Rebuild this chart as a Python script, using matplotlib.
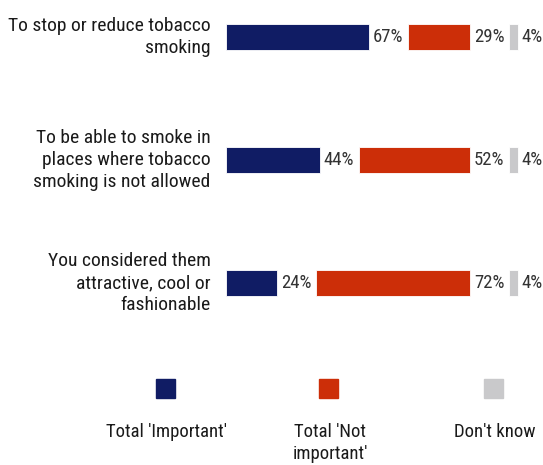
import matplotlib
matplotlib.use('Agg')
import matplotlib.pyplot as plt
from matplotlib.patches import Rectangle
import numpy as np

plt.rcParams['font.family'] = ['Roboto Condensed', 'Archivo Narrow', 'DejaVu Sans']

# data
categories = ['To stop or reduce tobacco\nsmoking',
              'To be able to smoke in\nplaces where tobacco\nsmoking is not allowed',
              'You considered them\nattractive, cool or\nfashionable']
important = [67, 44, 24]
not_important = [29, 52, 72]
dont_know = [4, 4, 4]
series_names = ["Total 'Important'", "Total 'Not\nimportant'", "Don't know"]
colors = ['#101c64', '#cc2e08', '#c9c9cb']

GAP = 18.2          # room left for the value label between segments
W, H = 543, 465
PX = 2.14           # pixels per percentage point

fig = plt.figure(figsize=(W / 100, H / 100), dpi=100)
ax = fig.add_axes([226 / W, 0, 1 - 226 / W, 1])
ax.set_xlim(0, (W - 226) / PX)
ax.set_ylim((H - 37) / 123, -37 / 123)
ax.axis('off')

y = np.arange(len(categories))
imp = np.array(important)
nimp = np.array(not_important)
dk = np.array(dont_know)

left2 = imp + GAP
left3 = left2 + nimp + GAP
bh = 26 / 123

for left, vals, c in [(0, imp, colors[0]), (left2, nimp, colors[1]), (left3, dk, colors[2])]:
    ax.barh(y, vals, left=left, height=bh, color=c, edgecolor='white', linewidth=0.6)
    ends = left + vals
    for yi, e, v in zip(y, ends, vals):
        ax.annotate(f'{v}%', xy=(e, yi), xytext=(2.5, 0), textcoords='offset points',
                    ha='left', va='center', fontsize=13.5, color='#333333')

for yi, lab in zip(y, categories):
    ax.annotate(lab, xy=(0, yi), xytext=(-11, 0), textcoords='offset points',
                ha='right', va='center', fontsize=14, color='#1a1a1a', linespacing=1.32)

# legend: squares above centred labels
leg_x = [165, 328, 493]
for cx, name, c in zip(leg_x, series_names, colors):
    fig.patches.append(Rectangle(((cx - 9.5) / W, 1 - 398 / H), 19 / W, 19 / H,
                                 transform=fig.transFigure, color=c))
    fig.text((cx + 2) / W, 1 - 423 / H, name, ha='center', va='top', fontsize=13.5,
             color='#1a1a1a', linespacing=1.25)

fig.savefig('out.png', dpi=100)
